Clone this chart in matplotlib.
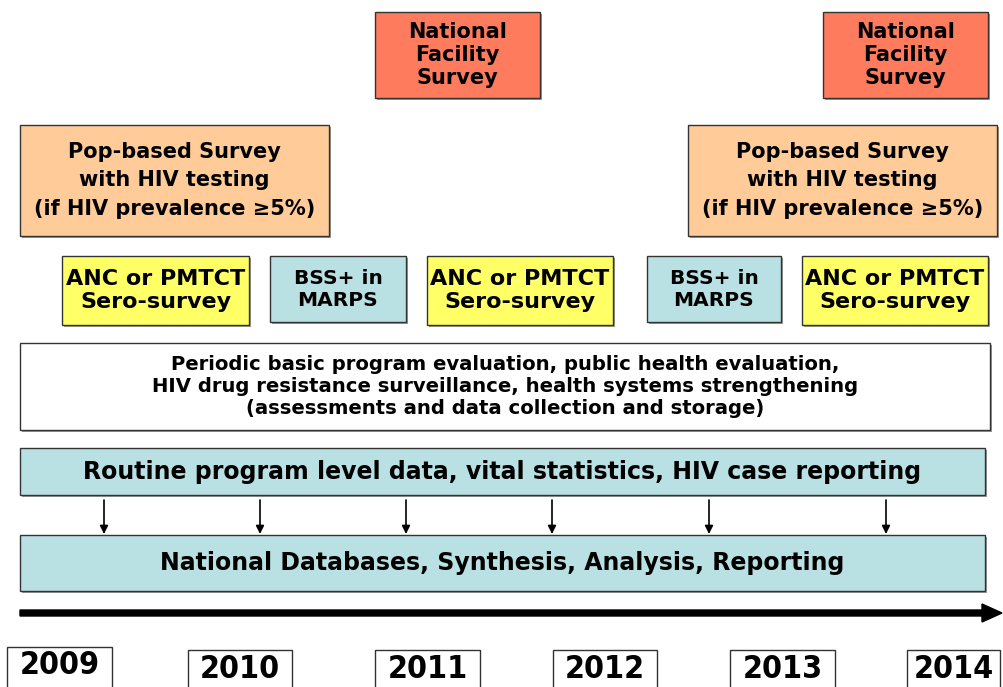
import matplotlib
matplotlib.use("Agg")
import matplotlib.pyplot as plt
from matplotlib.patches import Rectangle, FancyArrow

# ---- content ----
facility_label = "National\nFacility\nSurvey"
pop_label = "Pop-based Survey\nwith HIV testing\n(if HIV prevalence \u22655%)"
anc_label = "ANC or PMTCT\nSero-survey"
bss_label = "BSS+ in\nMARPS"
periodic_label = ("Periodic basic program evaluation, public health evaluation,\n"
                  "HIV drug resistance surveillance, health systems strengthening\n"
                  "(assessments and data collection and storage)")
routine_label = "Routine program level data, vital statistics, HIV case reporting"
national_label = "National Databases, Synthesis, Analysis, Reporting"
years = ["2009", "2010", "2011", "2012", "2013", "2014"]

# ---- layout (pixel space) ----
C_CORAL = "#FF7B5E"
C_PEACH = "#FFCC99"
C_YELLOW = "#FFFF66"
C_BLUE = "#B9E0E3"

boxes = [
    # x0, y0, x1, y1, label, color, fontsize, linespacing
    (375, 12, 540, 98, facility_label, C_CORAL, 15, 1.2),
    (823, 12, 988, 98, facility_label, C_CORAL, 15, 1.2),
    (20, 125, 329, 236, pop_label, C_PEACH, 15, 1.55),
    (688, 125, 997, 236, pop_label, C_PEACH, 15, 1.55),
    (62, 256, 249, 325, anc_label, C_YELLOW, 16, 1.15),
    (270, 256, 406, 322, bss_label, C_BLUE, 14.5, 1.2),
    (427, 256, 613, 325, anc_label, C_YELLOW, 16, 1.15),
    (647, 256, 781, 322, bss_label, C_BLUE, 14.5, 1.2),
    (802, 256, 988, 325, anc_label, C_YELLOW, 16, 1.15),
    (20, 343, 990, 430, periodic_label, "white", 14.1, 1.22),
    (20, 448, 985, 495, routine_label, C_BLUE, 17, 1.2),
    (20, 535, 985, 591, national_label, C_BLUE, 17, 1.2),
]
arrow_x = [104, 260, 406, 552, 709, 886]
year_boxes = [(7, 647, 112), (188, 650, 292), (375, 650, 480),
              (553, 650, 657), (730, 650, 835), (907, 650, 1000)]

W, H = 1004, 687
fig = plt.figure(figsize=(W / 100, H / 100), dpi=100)
ax = fig.add_axes([0, 0, 1, 1])
ax.set_xlim(0, W)
ax.set_ylim(H, 0)
ax.axis("off")

for x0, y0, x1, y1, lab, col, fs, ls in boxes:
    ax.add_patch(Rectangle((x0 + 2, y0 + 2), x1 - x0, y1 - y0, facecolor="#999999",
                           edgecolor="none", zorder=1))
    ax.add_patch(Rectangle((x0, y0), x1 - x0, y1 - y0, facecolor=col,
                           edgecolor="#333333", linewidth=1.0, zorder=2))
    ax.text((x0 + x1) / 2, (y0 + y1) / 2, lab, ha="center", va="center",
            fontsize=fs, fontweight="bold", color="black", linespacing=ls,
            family="DejaVu Sans", zorder=3)

for x in arrow_x:
    ax.annotate("", xy=(x, 534), xytext=(x, 500),
                arrowprops=dict(arrowstyle="-|>", color="black", lw=1.2,
                                mutation_scale=12, shrinkA=0, shrinkB=0), zorder=4)

# timeline arrow
ax.add_patch(FancyArrow(20, 613, 962, 0, width=6, head_width=18, head_length=20,
                        length_includes_head=False, color="black", zorder=4))

for (x0, y0, x1), yr in zip(year_boxes, years):
    ax.add_patch(Rectangle((x0, y0), x1 - x0, 60, facecolor="white",
                           edgecolor="#333333", linewidth=1.0, zorder=2))
    ax.text((x0 + x1) / 2, y0 + 19, yr, ha="center", va="center",
            fontsize=23, fontweight="bold", family="DejaVu Sans",
            fontstretch="condensed", zorder=3)

fig.savefig("out.png", dpi=100)
